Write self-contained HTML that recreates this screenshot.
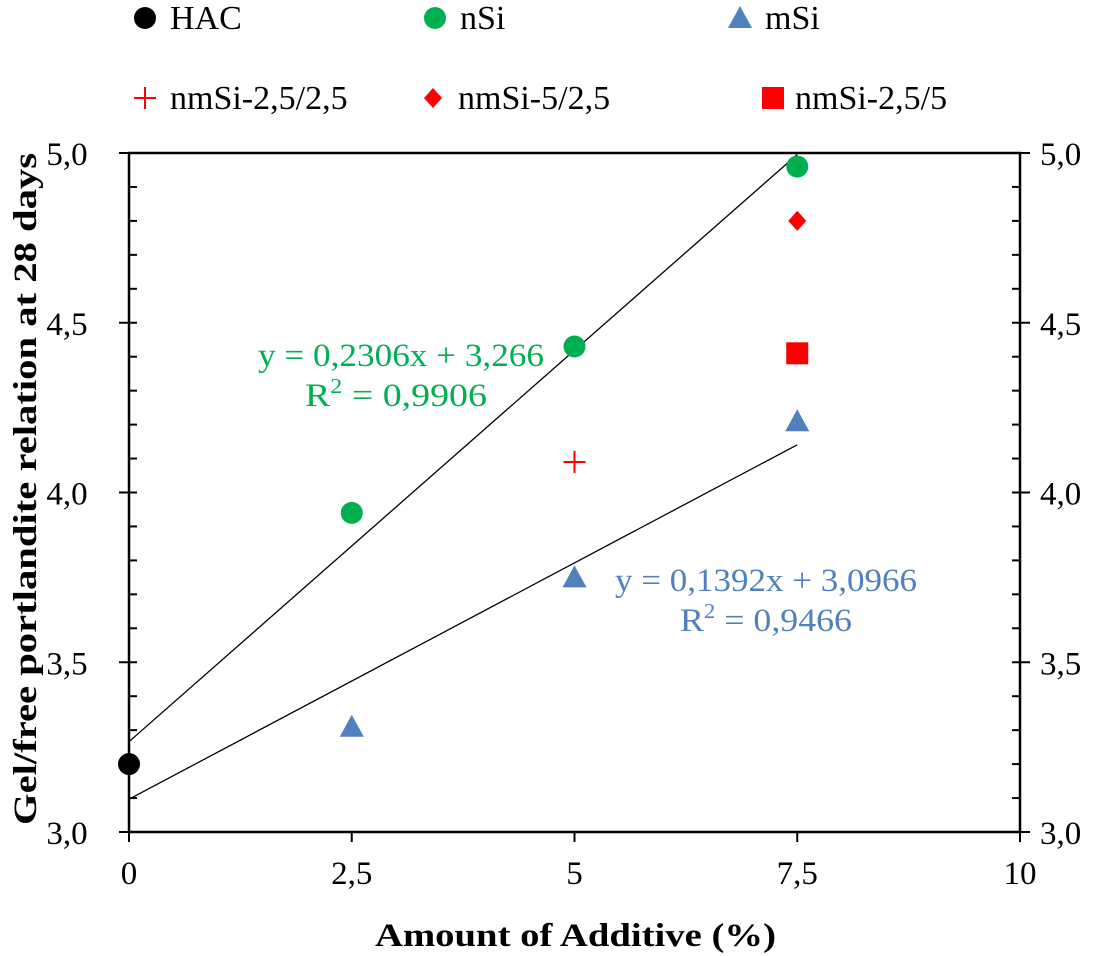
<!DOCTYPE html>
<html><head><meta charset="utf-8"><style>
body{margin:0;background:#fff}
svg{display:block;font-family:"Liberation Serif",serif}
</style></head><body>
<svg id="c" width="1103" height="956" viewBox="0 0 1103 956"></svg>
<script>
const hacX=[0], hacY=[3.2];
const nSiX=[2.5,5,7.5], nSiY=[3.94,4.43,4.96];
const mSiX=[2.5,5,7.5], mSiY=[3.31,3.75,4.21];
const nm1X=[5], nm1Y=[4.09];
const nm2X=[7.5], nm2Y=[4.80];
const nm3X=[7.5], nm3Y=[4.41];
const nSiFit=[0.2306,3.266], mSiFit=[0.1392,3.0966];
const xTicks=[0,2.5,5,7.5,10], xTickLabels=["0","2,5","5","7,5","10"];
const yTicks=[3,3.5,4,4.5,5], yTickLabels=["3,0","3,5","4,0","4,5","5,0"];
const NS="http://www.w3.org/2000/svg", svg=document.getElementById('c');
const X0=129,X1=1020,Y0=832,Y1=153;
const sx=v=>X0+(v-0)/10*(X1-X0), sy=v=>Y0-(v-3)/2*(Y0-Y1);
function mk(t,a,p){const e=document.createElementNS(NS,t);for(const k in a)e.setAttribute(k,a[k]);(p||svg).appendChild(e);return e;}
const ax=mk('g',{});


mk('rect',{x:X0,y:Y1,width:X1-X0,height:Y0-Y1,fill:'none',stroke:'#000','stroke-width':2.5},ax);
for(let v=3;v<=5.001;v+=0.1){const y=sy(v);const major=Math.abs(v*2-Math.round(v*2))<0.01;
 mk('line',{x1:major?X0-10:X0,x2:X0+8,y1:y,y2:y,stroke:'#000','stroke-width':2},ax);
 mk('line',{x1:X1-8,x2:major?X1+10:X1,y1:y,y2:y,stroke:'#000','stroke-width':2},ax);}
xTicks.forEach((v,i)=>{const x=sx(v);mk('line',{x1:x,x2:x,y1:Y0,y2:Y0+10,stroke:'#000','stroke-width':2},ax);
 const t=mk('text',{x:x,y:Y0+52,'text-anchor':'middle','font-size':33},ax);t.textContent=xTickLabels[i];
 
 });
yTicks.forEach((v,i)=>{const y=sy(v);
 const t=mk('text',{x:X0-62,y:y+12,'text-anchor':'middle','font-size':33},ax);t.textContent=yTickLabels[i];
 
 
 const t2=mk('text',{x:X1+20,y:y+12,'font-size':33},ax);t2.textContent=yTickLabels[i];
 
 });
const xt=mk('text',{x:375,y:946,'font-size':33,'font-weight':'bold',textLength:401,lengthAdjust:'spacingAndGlyphs'},ax);xt.textContent='Amount of Additive (%)';


const yt=mk('text',{x:-335,y:0,'font-size':33,'font-weight':'bold',textLength:672,lengthAdjust:'spacingAndGlyphs',transform:'translate(36,490) rotate(-90)'},ax);yt.textContent='Gel/free portlandite relation at 28 days';


function fit(f,name){const l=mk('line',{x1:sx(0),y1:sy(f[1]),x2:sx(7.5),y2:sy(f[0]*7.5+f[1]),stroke:'#000','stroke-width':1.3});
 
 }
fit(nSiFit,'nsi-trendline');fit(mSiFit,'msi-trendline');
function circ(x,y,c,p){return mk('circle',{cx:x,cy:y,r:11,fill:c},p);}
function tri(x,y,c,p){return mk('polygon',{points:`${x},${y-12} ${x+12},${y+10} ${x-12},${y+10}`,fill:c},p);}
function plus(x,y,c,p){const g=mk('g',{},p);mk('line',{x1:x-11,x2:x+11,y1:y,y2:y,stroke:c,'stroke-width':2},g);mk('line',{x1:x,x2:x,y1:y-11,y2:y+11,stroke:c,'stroke-width':2},g);return g;}
function dia(x,y,c,p){return mk('polygon',{points:`${x},${y-10} ${x+9},${y} ${x},${y+10} ${x-9},${y}`,fill:c},p);}
function sq(x,y,c,p){return mk('rect',{x:x-11,y:y-11,width:22,height:22,fill:c},p);}
function series(xs,ys,f,c,name){const g=mk('g',{});
 
 
 xs.forEach((v,i)=>{const e=f(sx(v),sy(ys[i]),c,g);
 
 });}
series(hacX,hacY,circ,'#000','hac-series');
series(nSiX,nSiY,circ,'#00b050','nsi-series');
series(mSiX,mSiY,tri,'#4f81bd','msi-series');
series(nm1X,nm1Y,plus,'#ff0000','nmsi-25-25-series');
series(nm2X,nm2Y,dia,'#ff0000','nmsi-5-25-series');
series(nm3X,nm3Y,sq,'#ff0000','nmsi-25-5-series');
function txt(x,y,s,c,name,len){const t=mk('text',{x:x,y:y,'font-size':33,fill:c});if(len){t.setAttribute('textLength',len);t.setAttribute('lengthAdjust','spacingAndGlyphs');}t.innerHTML=s;
 
 return t;}
txt(258,366,'y = 0,2306x + 3,266','#00b050','nsi-equation',286);
txt(305,406,'R<tspan font-size="21" dy="-13">2</tspan><tspan dy="13"> = 0,9906</tspan>','#00b050','nsi-r2',182);
txt(615,591,'y = 0,1392x + 3,0966','#4f81bd','msi-equation',302);
txt(680,631,'R<tspan font-size="21" dy="-13">2</tspan><tspan dy="13"> = 0,9466</tspan>','#4f81bd','msi-r2',172);
const legend=[[145,18,circ,'#000','HAC'],[435,18,circ,'#00b050','nSi'],[740,18,tri,'#4f81bd','mSi'],
 [145,98,plus,'#ff0000','nmSi-2,5/2,5'],[433,98,dia,'#ff0000','nmSi-5/2,5'],[773,98,sq,'#ff0000','nmSi-2,5/5']];
legend.forEach(l=>{const g=mk('g',{});
 
 
 l[2](l[0],l[1],l[3],g);const t=mk('text',{x:l[0]+(l[2]===sq?22:25),y:l[1]+11,'font-size':34},g);t.textContent=l[4];});
</script>
</body></html>
